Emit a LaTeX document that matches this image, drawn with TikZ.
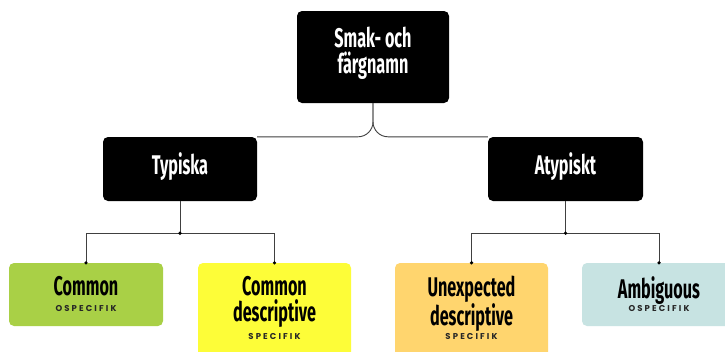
\documentclass[tikz,border=0pt]{standalone}
\usepackage{fontspec}
\setmainfont{Fira Sans}
\newfontfamily\titlefont{Fira Sans}[FakeStretch=0.6]
\newfontfamily\subfont{Poppins}[LetterSpace=25]
\usetikzlibrary{positioning}

\definecolor{verde}{RGB}{169,208,70}
\definecolor{giallo}{RGB}{253,253,56}
\definecolor{arancio}{RGB}{255,213,110}
\definecolor{azzurro}{RGB}{199,227,226}

\tikzset{
  box/.style={fill=black, rounded corners=5pt, minimum width=154pt, minimum height=64pt, inner sep=0pt},
  kid/.style={rounded corners=5pt, minimum width=154pt, inner sep=0pt},
  titolo/.style={text=white, font=\titlefont\bfseries\fontsize{27}{26}\selectfont, align=center, inner sep=0pt},
  voce/.style={text=black, font=\titlefont\bfseries\fontsize{27}{26}\selectfont, align=center, inner sep=0pt},
  sotto/.style={text=black!85, font=\subfont\bfseries\fontsize{8.5}{10}\selectfont, inner sep=0pt},
  conn/.style={draw=black!75, line width=0.9pt},
  punto/.style={circle, fill=black, inner sep=0pt, minimum size=3.6pt},
}

\begin{document}
\begin{tikzpicture}[x=1pt, y=-1pt]
    \useasboundingbox[fill=white] (0,0) rectangle (725,351);
    % Disegna le scatole nere
    \node[box, minimum width=152pt, minimum height=92pt] (radice) at (373,57) {};
    \node[box] (typ) at (180,169) {};
    \node[box, minimum width=155pt] (atyp) at (565.5,169) {};
    % Disegna le scatole colorate
    \node[kid, fill=verde, minimum height=63pt] (common) at (86,294.5) {};
    \node[kid, fill=giallo, minimum width=153pt, minimum height=100pt] (cdesc) at (274.5,313) {};
    \node[kid, fill=arancio, minimum width=153pt, minimum height=100pt] (unexp) at (471.5,313) {};
    \node[kid, fill=azzurro, minimum height=63pt] (ambig) at (659,294.5) {};
    % Disegna i testi
    \node[titolo, anchor=north] (radicetxt) at (373,27) {Smak- och\\färgnamn};
    \node[titolo, anchor=north] (typtxt) at (180,152) {Typiska};
    \node[titolo, anchor=north] (atyptxt) at (565.5,152) {Atypiskt};
    \node[voce, anchor=north] (commontxt) at (86,276) {Common};
    \node[sotto, anchor=north] (commonsub) at (86,305) {OSPECIFIK};
    \node[voce, anchor=north] (cdesctxt) at (274.5,276) {Common\\descriptive};
    \node[sotto, anchor=north] (cdescsub) at (274.5,333) {SPECIFIK};
    \node[voce, anchor=north] (unexptxt) at (471.5,276) {Unexpected\\descriptive};
    \node[sotto, anchor=north] (unexpsub) at (471.5,333) {SPECIFIK};
    \node[voce, anchor=north] (ambigtxt) at (659,276) {Ambiguous};
    \node[sotto, anchor=north] (ambigsub) at (659,305) {OSPECIFIK};
    % Disegna le linee dalla radice
    \draw[conn, rounded corners=15pt] (radice.south) |- (typ.north east);
    \draw[conn, rounded corners=15pt] (radice.south) |- (atyp.north west);
    % Disegna le linee verso i figli
    \coordinate (typj) at ([yshift=-32pt]typ.south);
    \coordinate (atypj) at ([yshift=-32pt]atyp.south);
    \draw[conn] (typ.south) -- (typj);
    \draw[conn] (common.north) -- (common.north |- typj) -- (cdesc.north |- typj) -- (cdesc.north);
    \draw[conn] (atyp.south) -- (atypj);
    \draw[conn] (unexp.north) -- (unexp.north |- atypj) -- (ambig.north |- atypj) -- (ambig.north);
    % Disegna i punti
    \foreach \p in {typj, atypj, common.north, cdesc.north, unexp.north, ambig.north}
      \node[punto] at (\p) {};
\end{tikzpicture}
\end{document}
